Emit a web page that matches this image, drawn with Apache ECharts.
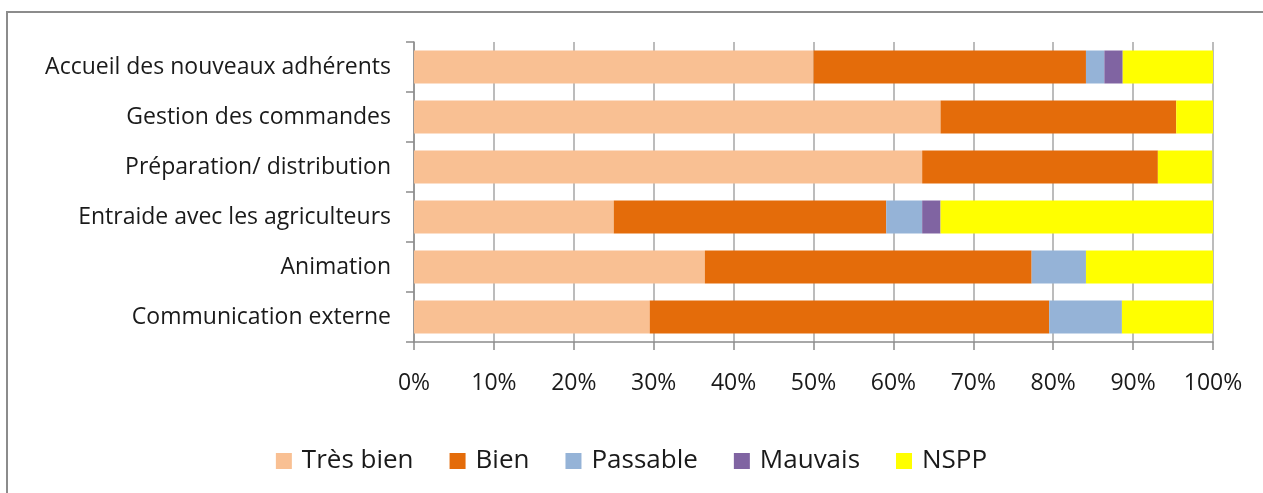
<!DOCTYPE html>
<html>
<head>
<meta charset="utf-8">
<script src="https://cdn.jsdelivr.net/npm/echarts@6/dist/echarts.min.js"></script>
<style>
  html, body { margin: 0; padding: 0; background: #fff; overflow: hidden; }
  .frame {
    position: absolute; left: 6px; top: 11px; width: 1300px; height: 500px;
    border-left: 2px solid #8c8c8c; border-top: 2px solid #8c8c8c;
  }
  #chart { position: absolute; left: 0; top: 0; width: 1263px; height: 493px; }
</style>
</head>
<body>
<div class="frame"></div>
<div id="chart"></div>
<script>
// categories, top to bottom
const categories = [
  "Accueil des nouveaux adhérents",
  "Gestion des commandes",
  "Préparation/ distribution",
  "Entraide avec les agriculteurs",
  "Animation",
  "Communication externe"
];
const seriesNames = ["Très bien", "Bien", "Passable", "Mauvais", "NSPP"];
// percentages
const tresBien = [50.0, 65.9, 63.6, 25.0, 36.4, 29.5];
const bien     = [34.1, 29.5, 29.5, 34.1, 40.9, 50.0];
const passable = [2.3, 0, 0, 4.5, 6.8, 9.1];
const mauvais  = [2.3, 0, 0, 2.3, 0, 0];
const nspp     = [11.4, 4.6, 6.8, 34.1, 15.9, 11.4];
const xTicks = [0, 10, 20, 30, 40, 50, 60, 70, 80, 90, 100];

const colors = ["#F9C093", "#E46C0A", "#95B3D7", "#8064A2", "#FFFF00"];
const values = [tresBien, bien, passable, mauvais, nspp];
const font = "'Open Sans', 'Noto Sans', sans-serif";

const chart = echarts.init(document.getElementById("chart"));
const option = {
  color: colors,
  animation: false,
  textStyle: { fontFamily: font },
  grid: { left: 414, right: 50, top: 42, bottom: 151 },
  legend: {
    top: 443,
    left: "center",
    itemWidth: 16,
    itemHeight: 16,
    itemGap: 36,
    icon: "rect",
    textStyle: { fontSize: 26, color: "#1a1a1a", fontFamily: font, padding: [0, 0, 0, 5] },
    data: seriesNames
  },
  xAxis: {
    type: "value",
    min: xTicks[0],
    max: xTicks[xTicks.length - 1],
    interval: 10,
    axisLine: { show: true, lineStyle: { color: "#8c8c8c", width: 1.5 } },
    axisTick: { show: true, length: 8, lineStyle: { color: "#8c8c8c", width: 1.5 } },
    splitLine: { show: true, lineStyle: { color: "#a6a6a6", width: 1.5 } },
    axisLabel: {
      margin: 30, fontSize: 23, color: "#1a1a1a", fontFamily: font,
      formatter: v => v + "%"
    }
  },
  yAxis: {
    type: "category",
    inverse: true,
    data: categories,
    axisLine: { show: true, lineStyle: { color: "#8c8c8c", width: 1.5 } },
    axisTick: { show: true, length: 8, lineStyle: { color: "#8c8c8c", width: 1.5 } },
    axisLabel: { margin: 23, fontSize: 23, color: "#1a1a1a", fontFamily: font }
  },
  series: seriesNames.map((name, i) => ({
    name: name,
    type: "bar",
    stack: "total",
    barCategoryGap: "34%",
    itemStyle: { color: colors[i] },
    data: values[i]
  }))
};
chart.setOption(option);
</script>
</body>
</html>
